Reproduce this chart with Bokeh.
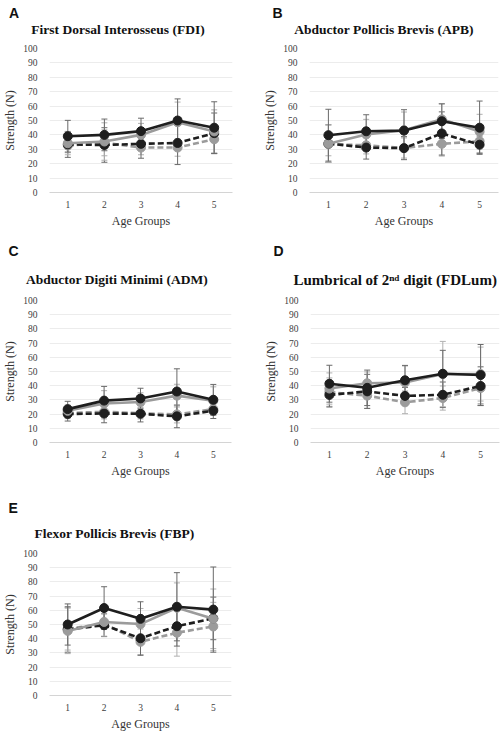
from bokeh.plotting import figure
from bokeh.models import Range1d, FixedTicker, ColumnDataSource, Whisker, TeeHead, Label
from bokeh.layouts import column, row
from bokeh.embed import file_html
from bokeh.resources import INLINE

groups = [1, 2, 3, 4, 5]
y_ticks = [0, 10, 20, 30, 40, 50, 60, 70, 80, 90, 100]

# Panel A - FDI
fdi_black_solid = [39.1, 40.0, 42.6, 50.0, 45.0]
fdi_black_solid_sd = [11, 11, 9, 15, 18]
fdi_grey_solid = [34.2, 35.4, 40.0, 48.8, 42.4]
fdi_grey_solid_sd = [8, 13, 8, 14, 15]
fdi_black_dash = [33.4, 33.0, 33.8, 34.4, 41.2]
fdi_black_dash_sd = [9, 12, 10, 15, 14]
fdi_grey_dash = [32.6, 34.5, 31.2, 31.2, 37.0]
fdi_grey_dash_sd = [5, 9, 5, 6, 10]

# Panel B - APB
apb_black_solid = [39.8, 42.5, 43.0, 49.5, 45.0]
apb_black_solid_sd = [18, 11.5, 14.5, 12, 18.5]
apb_grey_solid = [33.9, 40.3, 43.2, 50.8, 42.3]
apb_grey_solid_sd = [13, 10.5, 12.7, 11, 12]
apb_black_dash = [34.0, 31.2, 30.8, 41.0, 33.2]
apb_black_dash_sd = [13, 8, 8, 15, 6]
apb_grey_dash = [33.5, 32.8, 30.9, 33.8, 35.6]
apb_grey_dash_sd = [8, 6, 7, 8.5, 8]

# Panel C - ADM
adm_black_solid = [23.5, 29.5, 31.0, 35.9, 30.1]
adm_black_solid_sd = [5.5, 10, 7.2, 16, 10.8]
adm_grey_solid = [22.3, 27.5, 28.5, 33.0, 29.4]
adm_grey_solid_sd = [4, 9, 6.5, 8, 9.8]
adm_black_dash = [20.1, 20.4, 20.2, 18.4, 22.4]
adm_black_dash_sd = [5, 6.5, 5.7, 8, 5.5]
adm_grey_dash = [20.8, 21.6, 20.6, 19.8, 23.5]
adm_grey_dash_sd = [4, 5, 4, 6, 4]

# Panel D - FDLum
fdl_black_solid = [41.4, 38.5, 43.8, 48.4, 47.5]
fdl_black_solid_sd = [13, 12.5, 10.5, 16.5, 21.5]
fdl_grey_solid = [38.0, 41.7, 42.3, 48.2, 48.2]
fdl_grey_solid_sd = [11, 8, 11.6, 23, 19]
fdl_black_dash = [33.5, 36.0, 32.8, 33.6, 39.8]
fdl_black_dash_sd = [8.5, 12, 6, 9, 13.5]
fdl_grey_dash = [35.5, 33.0, 28.3, 31.3, 38.4]
fdl_grey_dash_sd = [10, 9, 8, 8.5, 11]

# Panel E - FBP
fbp_black_solid = [50.0, 61.6, 54.0, 62.5, 60.5]
fbp_black_solid_sd = [14.5, 15, 12, 24, 30]
fbp_grey_solid = [45.5, 51.8, 50.3, 61.8, 54.0]
fbp_grey_solid_sd = [16, 10, 11, 17.5, 21]
fbp_black_dash = [46.5, 49.5, 40.3, 48.8, 54.3]
fbp_black_dash_sd = [16, 8, 12, 14, 15]
fbp_grey_dash = [47.0, 50.5, 37.8, 44.2, 48.6]
fbp_grey_dash_sd = [15, 9, 9, 16.5, 17]

titles = ["First Dorsal Interosseus (FDI)", "Abductor Pollicis Brevis (APB)",
          "Abductor Digiti Minimi (ADM)", "Lumbrical of 2\u207f\u1d48 digit (FDLum)",
          "Flexor Pollicis Brevis (FBP)"]
letters = ["A", "B", "C", "D", "E"]

BLACK = "#1e1e1e"
GREY = "#9b9b9b"
SERIF = "Liberation Serif"
SANS = "Liberation Sans"
FULL_W = 503


def make_header(h, items):
    """items: (text, x, y, kind, align, size) in pixel coordinates of the strip."""
    p = figure(width=FULL_W, height=h, x_range=Range1d(0, FULL_W), y_range=Range1d(0, h),
               output_backend="svg", toolbar_location=None, title=None,
               x_axis_location=None, y_axis_location=None, min_border=0)
    p.outline_line_color = None
    p.grid.visible = False
    for txt, x, y, kind, align, size in items:
        p.add_layout(Label(x=x, y=y, text=txt, text_align=align, text_baseline="alphabetic",
                           text_font=SANS if kind == "letter" else SERIF,
                           text_font_style="bold", text_font_size=size, text_color="#111111"))
    return p


def make_chart(series, w, h, ml, mr, mt, mb, xtick_so=2, xlab_so=3):
    p = figure(width=w, height=h, x_range=Range1d(0.5, 5.5), y_range=Range1d(0, 100),
               output_backend="svg", toolbar_location=None, title=None,
               min_border_left=ml, min_border_right=mr, min_border_top=mt, min_border_bottom=mb)
    p.outline_line_color = None

    p.xaxis.ticker = FixedTicker(ticks=groups)
    p.yaxis.ticker = FixedTicker(ticks=y_ticks)
    p.ygrid.ticker = FixedTicker(ticks=y_ticks)
    p.xgrid.grid_line_color = None
    p.ygrid.grid_line_color = "#ececec"
    p.ygrid.grid_line_width = 1
    for ax in (p.xaxis, p.yaxis):
        ax.major_tick_line_color = None
        ax.minor_tick_line_color = None
        ax.major_label_text_font = SERIF
        ax.major_label_text_font_size = "9.5px"
        ax.major_label_text_color = "#404040"
        ax.axis_label_text_font = SERIF
        ax.axis_label_text_font_size = "12px"
        ax.axis_label_text_font_style = "normal"
        ax.axis_label_text_color = "#333333"
    p.yaxis.axis_line_color = None
    p.xaxis.axis_line_color = "#d4d4d4"
    p.yaxis.major_label_standoff = 6
    p.xaxis.major_label_standoff = xtick_so
    p.yaxis.axis_label = "Strength (N)"
    p.yaxis.axis_label_standoff = 3
    p.xaxis.axis_label = "Age Groups"
    p.xaxis.axis_label_standoff = xlab_so

    styles = [
        ("grey_dash", GREY, "6 3", "#b0b0b0"),
        ("black_dash", BLACK, "6 3", "#6a6a6a"),
        ("grey_solid", GREY, "solid", "#b0b0b0"),
        ("black_solid", BLACK, "solid", "#6a6a6a"),
    ]
    for key, col, dash, ecol in styles:
        vals, sds = series[key]
        src = ColumnDataSource(dict(x=groups, y=vals,
                                    lo=[v - s for v, s in zip(vals, sds)],
                                    hi=[v + s for v, s in zip(vals, sds)]))
        p.add_layout(Whisker(source=src, base="x", lower="lo", upper="hi", dimension="height",
                             line_color=ecol, line_width=1,
                             upper_head=TeeHead(size=6, line_color=ecol, line_width=1),
                             lower_head=TeeHead(size=6, line_color=ecol, line_width=1)))
    for key, col, dash, ecol in styles:
        vals, sds = series[key]
        src = ColumnDataSource(dict(x=groups, y=vals))
        p.line("x", "y", source=src, line_color=col, line_width=2.6, line_dash=dash)
        p.scatter("x", "y", source=src, size=9, fill_color=col, line_color=col, marker="circle")
    return p


def S(bs, bss, gs, gss, bd, bds, gd, gds):
    return {"black_solid": (bs, bss), "grey_solid": (gs, gss),
            "black_dash": (bd, bds), "grey_dash": (gd, gds)}


h1 = make_header(40, [(letters[0], 8.5, 28, "letter", "left", "14px"),
                      (letters[1], 272, 28, "letter", "left", "14px"),
                      (titles[0], 117.5, 11, "title", "center", "13.5px"),
                      (titles[1], 383.5, 11, "title", "center", "13.5px")])
pA = make_chart(S(fdi_black_solid, fdi_black_solid_sd, fdi_grey_solid, fdi_grey_solid_sd,
                  fdi_black_dash, fdi_black_dash_sd, fdi_grey_dash, fdi_grey_dash_sd),
                251, 200, 42, 19, 8, 48)
pB = make_chart(S(apb_black_solid, apb_black_solid_sd, apb_grey_solid, apb_grey_solid_sd,
                  apb_black_dash, apb_black_dash_sd, apb_grey_dash, apb_grey_dash_sd),
                252, 200, 58, 5, 8, 48)

h2 = make_header(52, [(letters[2], 8, 42, "letter", "left", "14px"),
                      (letters[3], 273, 42, "letter", "left", "14px"),
                      (titles[2], 116.5, 13, "title", "center", "13.5px"),
                      (titles[3], 293, 13, "title", "left", "15px")])
pC = make_chart(S(adm_black_solid, adm_black_solid_sd, adm_grey_solid, adm_grey_solid_sd,
                  adm_black_dash, adm_black_dash_sd, adm_grey_dash, adm_grey_dash_sd),
                251, 188, 41, 20, 8, 36)
pD = make_chart(S(fdl_black_solid, fdl_black_solid_sd, fdl_grey_solid, fdl_grey_solid_sd,
                  fdl_black_dash, fdl_black_dash_sd, fdl_grey_dash, fdl_grey_dash_sd),
                252, 188, 59, 4, 8, 36)

h3 = make_header(65, [(letters[4], 8, 38, "letter", "left", "14px"),
                      (titles[4], 114, 12, "title", "center", "13.5px")])
pE = make_chart(S(fbp_black_solid, fbp_black_solid_sd, fbp_grey_solid, fbp_grey_solid_sd,
                  fbp_black_dash, fbp_black_dash_sd, fbp_grey_dash, fbp_grey_dash_sd),
                251, 188, 39, 20, 8, 36)

layout = column(h1, row(pA, pB), h2, row(pC, pD), h3, row(pE))
open("out.html", "w").write(file_html(layout, INLINE))
